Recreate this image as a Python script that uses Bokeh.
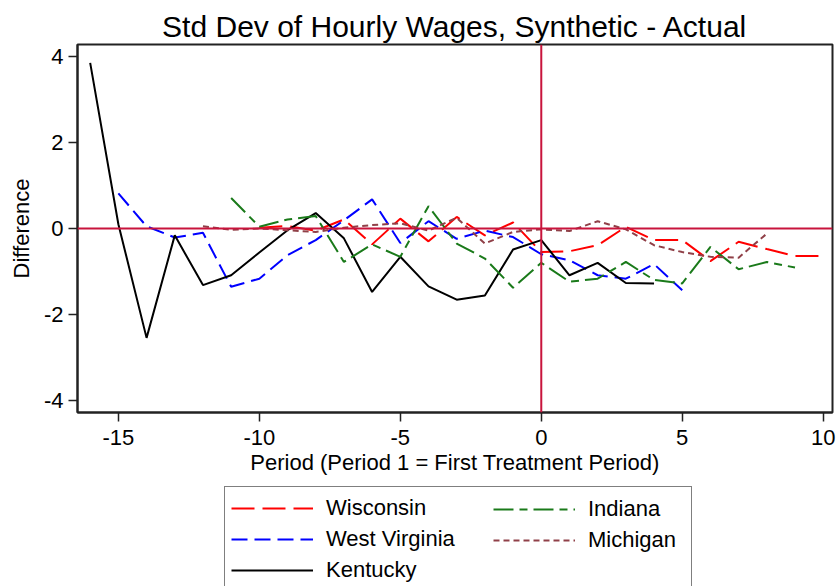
from bokeh.plotting import figure
from bokeh.layouts import column
from bokeh.models import Range1d, FixedTicker, Span, Legend, LegendItem
from bokeh.embed import file_html
from bokeh.resources import INLINE

# ---- data ----
wisconsin_x = list(range(-10, 11))
wisconsin_y = [0.02, 0.06, -0.05, 0.21, -0.37, 0.23, -0.30, 0.27, -0.16, 0.14,
               -0.55, -0.53, -0.39, 0.04, -0.27, -0.27, -0.76, -0.31, -0.48, -0.64, -0.64]

wv_x = list(range(-15, 6))
wv_y = [0.82, 0.05, -0.21, -0.10, -1.36, -1.17, -0.62, -0.27, 0.19, 0.68,
        -0.34, 0.17, -0.24, -0.05, -0.20, -0.60, -0.74, -1.09, -1.17, -0.83, -1.44]

kentucky_x = list(range(-16, 5))
kentucky_y = [3.86, 0.10, -2.55, -0.16, -1.32, -1.09, -0.56, -0.04, 0.36, -0.23,
              -1.48, -0.66, -1.35, -1.66, -1.56, -0.49, -0.27, -1.09, -0.80, -1.27, -1.28]

indiana_x = list(range(-11, 10))
indiana_y = [0.71, 0.04, 0.21, 0.29, -0.78, -0.37, -0.66, 0.52, -0.35, -0.70,
             -1.38, -0.80, -1.24, -1.17, -0.78, -1.20, -1.28, -0.43, -0.95, -0.78, -0.91]

michigan_x = list(range(-12, 9))
michigan_y = [0.05, -0.03, 0.00, -0.04, -0.08, 0.02, 0.08, 0.12, -0.05, 0.25,
              -0.35, -0.08, -0.02, -0.06, 0.17, -0.02, -0.39, -0.55, -0.66, -0.68, -0.12]

x_ticks = [-15, -10, -5, 0, 5, 10]
y_ticks = [-4, -2, 0, 2, 4]

FONT = "Liberation Sans"
W = 839

series = {
    "Wisconsin": (wisconsin_x, wisconsin_y),
    "West Virginia": (wv_x, wv_y),
    "Kentucky": (kentucky_x, kentucky_y),
    "Indiana": (indiana_x, indiana_y),
    "Michigan": (michigan_x, michigan_y),
}
styles = {
    "Wisconsin": dict(line_color="#FF0000", line_width=2, line_dash="23 8"),
    "West Virginia": dict(line_color="#0000FF", line_width=2, line_dash="16 7"),
    "Kentucky": dict(line_color="black", line_width=2),
    "Indiana": dict(line_color="#1A7A1A", line_width=2, line_dash="20 6 8 6"),
    "Michigan": dict(line_color="#904048", line_width=2, line_dash="6 4"),
}

# ---------------- main plot ----------------
p = figure(width=W, height=485, output_backend="svg", toolbar_location=None,
           x_range=Range1d(-16.45, 10.33), y_range=Range1d(-4.29, 4.29),
           min_border_left=77, min_border_right=7, min_border_top=44,
           min_border_bottom=73)

p.title.text = "Std Dev of Hourly Wages, Synthetic - Actual"
p.title.align = "center"
p.title.text_font = FONT
p.title.text_font_size = "30px"
p.title.text_font_style = "normal"
p.title.text_color = "black"
p.title.standoff = 3

p.xgrid.visible = False
p.ygrid.visible = False
p.outline_line_color = "#222222"
p.outline_line_width = 2
p.background_fill_color = "white"
p.border_fill_color = "white"

for ax, ticks in ((p.xaxis[0], x_ticks), (p.yaxis[0], y_ticks)):
    ax.ticker = FixedTicker(ticks=ticks)
    ax.major_label_overrides = {t: str(t) for t in ticks}
    ax.minor_tick_line_color = None
    ax.major_tick_in = 0
    ax.major_tick_out = 9
    ax.major_tick_line_width = 1.5
    ax.major_tick_line_color = "#222222"
    ax.axis_line_width = 2
    ax.axis_line_color = "#222222"
    ax.major_label_text_font = FONT
    ax.major_label_text_font_size = "22px"
    ax.major_label_text_color = "black"
    ax.axis_label_text_font = FONT
    ax.axis_label_text_font_size = "22px"
    ax.axis_label_text_font_style = "normal"
    ax.axis_label_text_color = "black"

p.xaxis.axis_label = "Period (Period 1 = First Treatment Period)"
p.xaxis.major_label_standoff = 8
p.xaxis.axis_label_standoff = 2
p.yaxis.axis_label = "Difference"
p.yaxis.major_label_standoff = 5
p.yaxis.axis_label_standoff = 7
p.yaxis.major_label_orientation = "horizontal"

ref_color = "#C8143C"
p.add_layout(Span(location=0, dimension="width", line_color=ref_color, line_width=2))
p.add_layout(Span(location=0, dimension="height", line_color=ref_color, line_width=2))

for name, (xs, ys) in series.items():
    p.line(xs, ys, **styles[name])

# ---------------- legend strip (frame aligned with the plot above) ----------------
p2 = figure(width=W, height=101, output_backend="svg", toolbar_location=None,
            x_range=Range1d(0, 1), y_range=Range1d(1000, 1001),
            x_axis_location=None, y_axis_location=None,
            min_border_left=0, min_border_right=0, min_border_top=0, min_border_bottom=0)
p2.title.visible = False
p2.xgrid.visible = False
p2.ygrid.visible = False
p2.outline_line_color = None
p2.background_fill_color = "white"
p2.border_fill_color = "white"

# same series, drawn out of this strip's view: they only feed the legend glyphs
proxy = {name: p2.line(xs, ys, **styles[name]) for name, (xs, ys) in series.items()}

common = dict(glyph_width=82, glyph_height=30, label_height=30, label_standoff=13,
              spacing=1, padding=6, margin=0,
              label_text_font=FONT, label_text_font_size="22px",
              label_text_color="black")

leg_a = Legend(items=[LegendItem(label=n, renderers=[proxy[n]])
                      for n in ("Wisconsin", "West Virginia", "Kentucky")],
               location=(147, -6), label_width=359,
               border_line_color="black", border_line_width=1.2,
               background_fill_color="white", background_fill_alpha=1.0,
               **common)
leg_b = Legend(items=[LegendItem(label=n, renderers=[proxy[n]])
                      for n in ("Indiana", "Michigan")],
               location=(410, 25), label_width=10,
               border_line_alpha=0, background_fill_alpha=0.0,
               **common)
p2.add_layout(leg_a)
p2.add_layout(leg_b)

layout = column(p, p2, spacing=0)
open("out.html", "w").write(file_html(layout, INLINE))
